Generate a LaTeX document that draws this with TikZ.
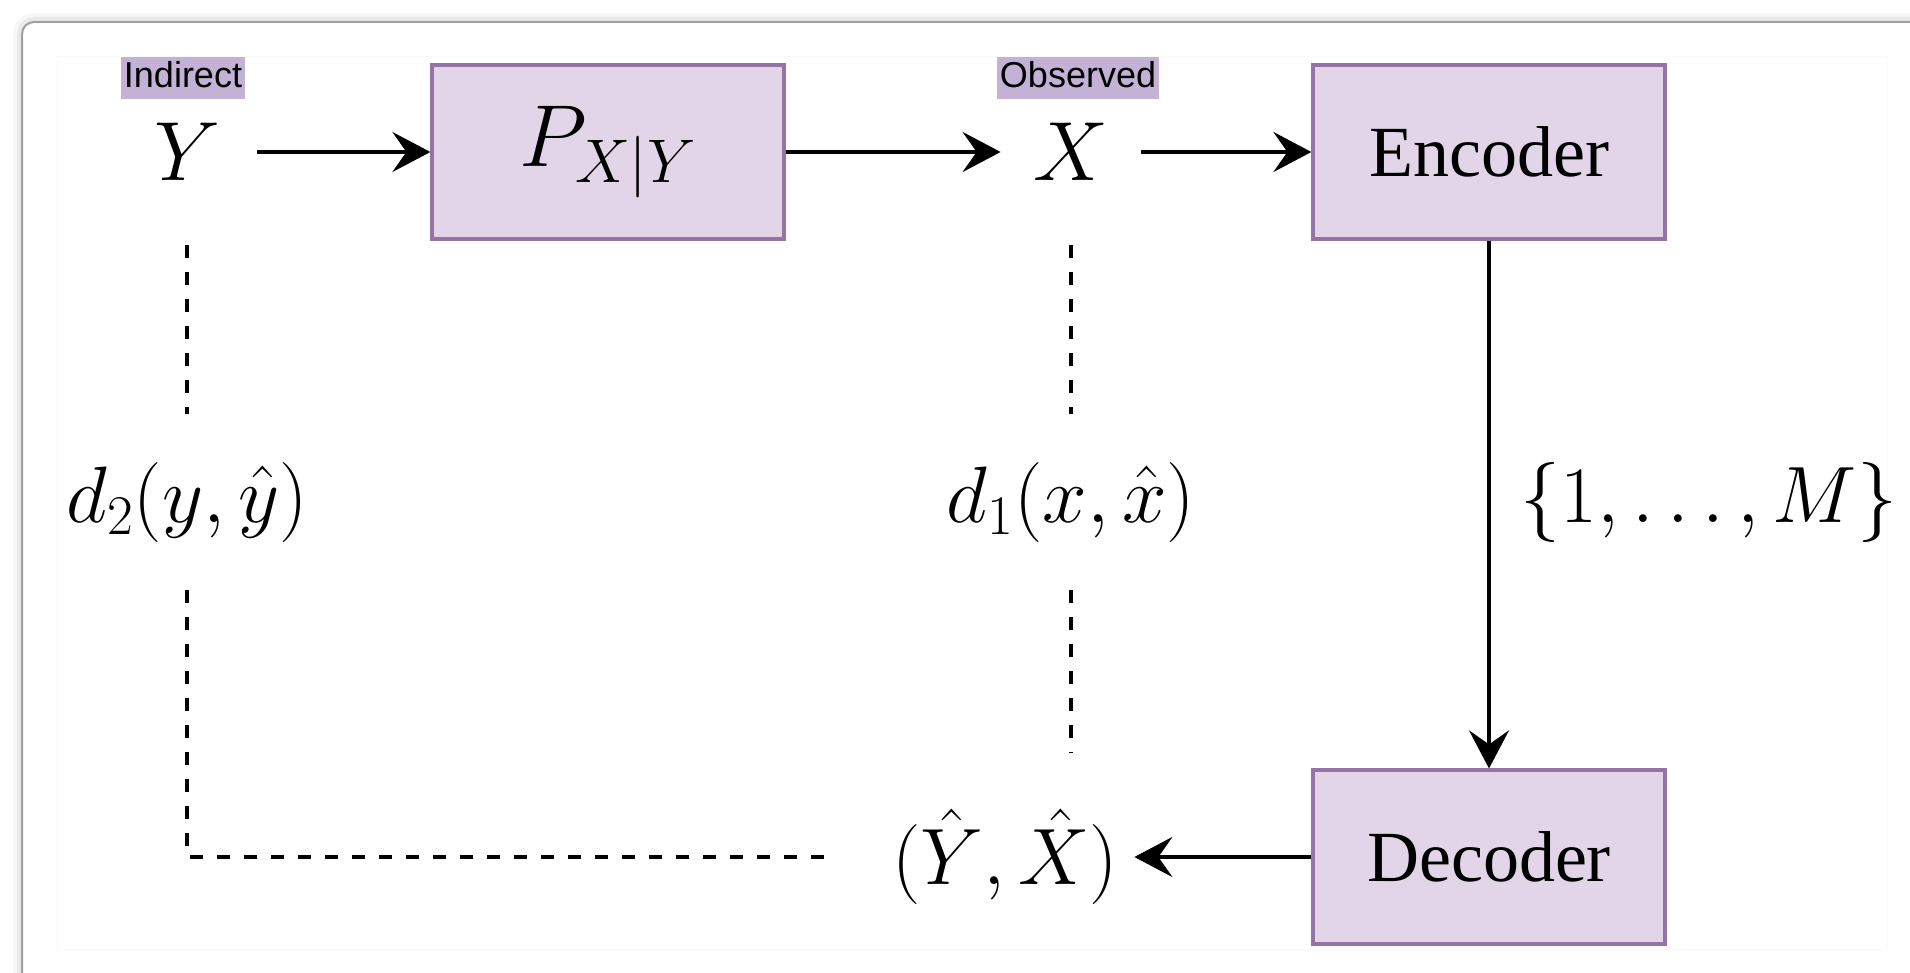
\documentclass[tikz,border=0pt]{standalone}
\usepackage{fix-cm}
\usepackage[no-math]{fontspec}
\newfontfamily\boxfont{Liberation Serif}
\newfontfamily\tagfont{Liberation Sans}
\usetikzlibrary{arrows.meta,positioning,calc}
\definecolor{cBox}{HTML}{E1D5E7}
\definecolor{cBoxLine}{HTML}{9673A6}
\definecolor{cTag}{HTML}{C3B2D6}
\definecolor{cFrame}{HTML}{A0A0A4}
\definecolor{cInk}{HTML}{000000}

\begin{document}
\begin{tikzpicture}[
  x=0.5pt, y=-0.5pt,
  blk/.style={draw=cBoxLine, fill=cBox, line width=1.6pt, inner sep=0pt,
              minimum width=176pt, minimum height=87pt,
              font=\fontsize{36}{40}\selectfont\boxfont},
  var/.style={inner sep=0pt, minimum width=70pt, minimum height=93pt,
              font=\fontsize{42}{50}\selectfont},
  dist/.style={inner sep=0pt, minimum height=88pt, font=\fontsize{40}{48}\selectfont},
  tag/.style={fill=cTag, inner xsep=1.5pt, inner ysep=1.5pt, text height=14pt,
              text depth=4pt, font=\fontsize{18}{20}\selectfont\tagfont},
  flow/.style={-{Stealth[length=19pt,width=20pt,inset=7pt]}, line width=1.8pt, draw=cInk},
  link/.style={line width=2pt, draw=cInk, dash pattern=on 6.5pt off 7pt},
]
\useasboundingbox (0,0) rectangle (1910,973);

% ---------------- window frame ----------------
\begin{scope}
  \clip (0,0) rectangle (1910,973);
  \fill[white] (0,0) rectangle (1910,973);
  \draw[black, opacity=.03, line width=9pt, rounded corners=6pt] (22,22) rectangle (1990,1050);
  \draw[black, opacity=.05, line width=5pt, rounded corners=6pt] (22,22) rectangle (1990,1050);
  \draw[cFrame, fill=white, line width=1pt, rounded corners=6pt] (22,22) rectangle (1990,1050);
  \draw[black!2, line width=.5pt] (57,57) rectangle (1887,949);
\end{scope}

% ---------------- source and channel ----------------
\node[var] (Y) at (187,152) {$Y$};
\node[tag] (tagY) at (183,78) {Indirect};
\node[blk, font=\fontsize{44}{50}\selectfont] (P) at (608,152) {$P_{X|Y}$};
\node[var] (X) at (1071,152) {$X$};
\node[tag] (tagX) at (1078,78) {Observed};

% ---------------- encoder / decoder ----------------
\node[blk] (enc) at (1489,152) {Encoder};
\node[blk] (dec) at (1489,857) {Decoder};
\node[dist] (msg) at (1709,502) {$\{1,\ldots,M\}$};
\node[dist, inner xsep=8pt, minimum height=104pt] (hat) at (1005,857) {$(\hat{Y},\hat{X})$};

% ---------------- distortions ----------------
\node[dist] (d2) at (187,502) {$d_2(y,\hat{y})$};
\node[dist] (d1) at (1071,502) {$d_1(x,\hat{x})$};

\draw[flow] (Y) -- (P);
\draw[flow] (P) -- (X);
\draw[flow] (X) -- (enc);
\draw[flow] (enc) -- (dec);
\draw[flow] (dec) -- (hat);

\draw[link] (Y) -- (d2);
\draw[link] (d2) |- ([xshift=-21pt]hat.west);
\draw[link] (X) -- (d1);
\draw[link] (d1.south) -- (d1.south |- hat.north);

\end{tikzpicture}
\end{document}
